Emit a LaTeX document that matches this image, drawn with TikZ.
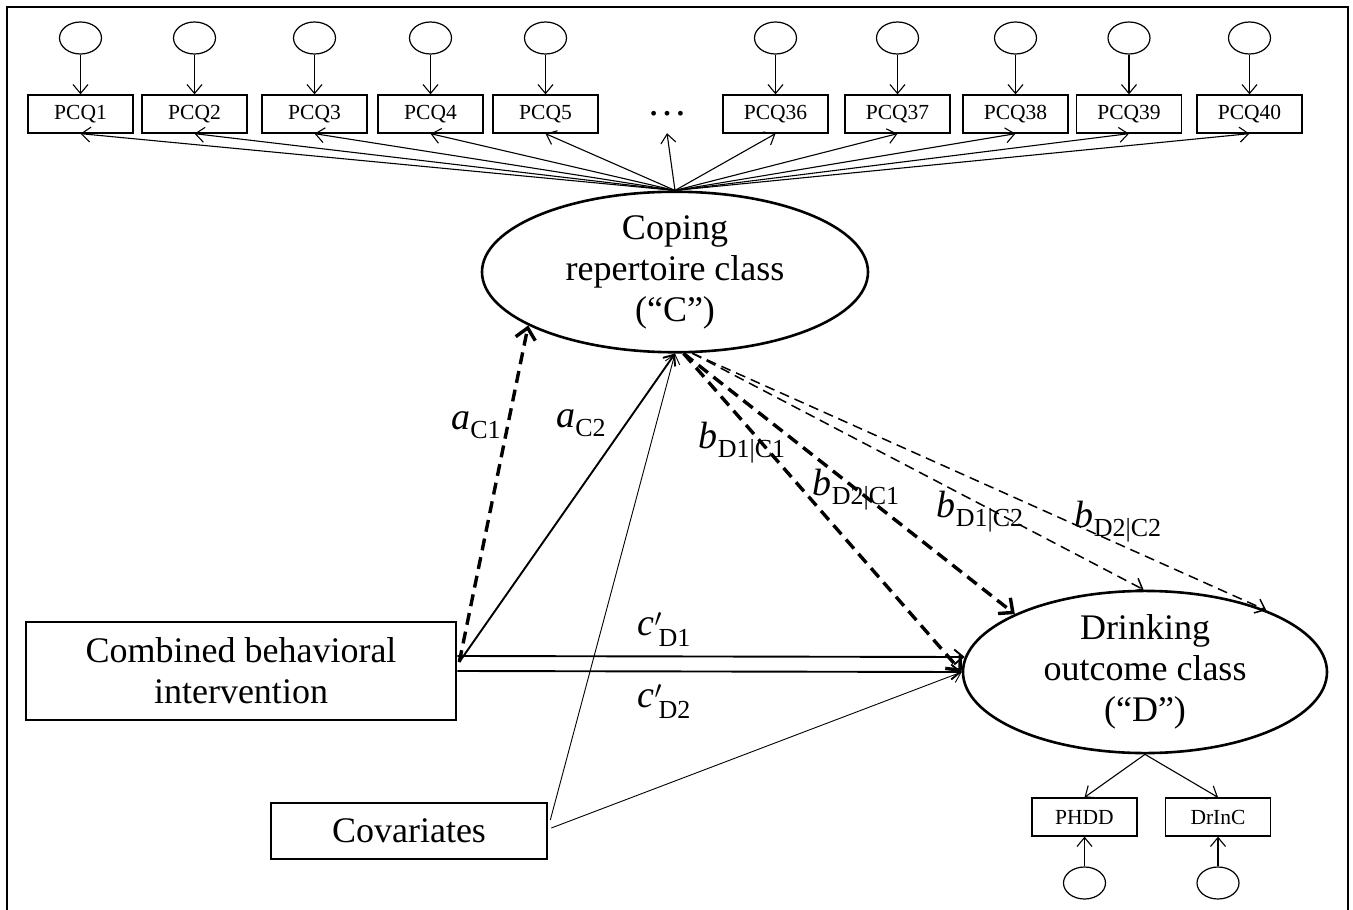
\documentclass[tikz,border=0pt]{standalone}
\usepackage{fontspec}
\setmainfont{Liberation Serif}
\usetikzlibrary{arrows.meta,calc,shapes.geometric}

\newcommand{\coef}[2]{\textit{#1}\raisebox{-9pt}{\fontsize{26}{26}\selectfont #2}}
\newcommand{\coefp}[2]{\textit{#1}\rlap{$^{\prime}$}\hspace{4pt}\raisebox{-11pt}{\fontsize{26}{26}\selectfont #2}}

\begin{document}
\begin{tikzpicture}[
    x=1pt, y=-1pt,
    >={Straight Barb[length=9pt,width=15pt]},
    line cap=butt, line join=miter,
    every node/.style={font=\fontsize{36}{41}\selectfont},
    lat/.style={ellipse, draw, line width=2.6pt, inner sep=0pt, align=center},
    obs/.style={draw, line width=2.6pt, inner sep=0pt, align=center},
    ind/.style={draw, line width=1.3pt, minimum width=105pt, minimum height=38pt,
                inner sep=0pt, font=\fontsize{21.5}{24}\selectfont},
    err/.style={ellipse, draw, line width=1.2pt, minimum width=42pt, minimum height=32pt, inner sep=0pt},
    load/.style={line width=1.1pt, ->},
    eff/.style={line width=1.9pt, ->},
    cov/.style={line width=0.9pt, ->},
    bigdash/.style={line width=3.4pt, dash pattern=on 12pt off 7pt,
                    -{Straight Barb[length=11pt,width=20pt]}},
    smalldash/.style={line width=1.5pt, dash pattern=on 10pt off 6pt, ->},
    coefl/.style={font=\fontsize{38}{40}\selectfont, inner sep=0pt},
]

% ============================================================
% Page + frame
% ============================================================
\useasboundingbox (0,0) rectangle (1353,910);
\fill[white] (0,0) rectangle (1353,910);
\draw[line width=2.2pt] (7,910) -- (7,7) -- (1348,7) -- (1348,910);

\def\boxY{114}
\def\errY{38}

% ============================================================
% Latent classes + observed variables
% ============================================================
\node[lat, minimum width=386pt, minimum height=148pt] (C) at (675,272) {Coping\\repertoire class\\(“C”)};
\node[lat, minimum width=364pt, minimum height=160pt] (D) at (1145,672) {Drinking\\outcome class\\(“D”)};
\node[obs, minimum width=430pt, minimum height=98pt] (CBI) at (241,671) {Combined behavioral\\intervention};
\node[obs, minimum width=276pt, minimum height=56pt] (Cov) at (409,831) {Covariates};

% ============================================================
% Coping items (PCQ) with error terms
% ============================================================
\node[ind] (pcq1)  at (80.5,\boxY)   {PCQ1};
\node[ind] (pcq2)  at (194.5,\boxY)  {PCQ2};
\node[ind] (pcq3)  at (314.5,\boxY)  {PCQ3};
\node[ind] (pcq4)  at (430.5,\boxY)  {PCQ4};
\node[ind] (pcq5)  at (545.5,\boxY)  {PCQ5};
\node[inner sep=0pt, minimum height=38pt, font=\fontsize{40}{40}\selectfont] (dots) at (667,\boxY) {…};
\node[ind] (pcq36) at (775.5,\boxY)  {PCQ36};
\node[ind] (pcq37) at (897.5,\boxY)  {PCQ37};
\node[ind] (pcq38) at (1015.5,\boxY) {PCQ38};
\node[ind] (pcq39) at (1129,\boxY)   {PCQ39};
\node[ind] (pcq40) at (1249.5,\boxY) {PCQ40};

\node[err] (e1)  at (80.5,\errY)   {};
\node[err] (e2)  at (194.5,\errY)  {};
\node[err] (e3)  at (314.5,\errY)  {};
\node[err] (e4)  at (430.5,\errY)  {};
\node[err] (e5)  at (545.5,\errY)  {};
\node[err] (e36) at (775.5,\errY)  {};
\node[err] (e37) at (897.5,\errY)  {};
\node[err] (e38) at (1015.5,\errY) {};
\node[err] (e39) at (1129,\errY)   {};
\node[err] (e40) at (1249.5,\errY) {};

\draw[load] (e1)  -- (pcq1);
\draw[load] (e2)  -- (pcq2);
\draw[load] (e3)  -- (pcq3);
\draw[load] (e4)  -- (pcq4);
\draw[load] (e5)  -- (pcq5);
\draw[load] (e36) -- (pcq36);
\draw[load] (e37) -- (pcq37);
\draw[load] (e38) -- (pcq38);
\draw[load] (e39) -- (pcq39);
\draw[load] (e40) -- (pcq40);

\draw[load] (C.north) -- (pcq1.south);
\draw[load] (C.north) -- (pcq2.south);
\draw[load] (C.north) -- (pcq3.south);
\draw[load] (C.north) -- (pcq4.south);
\draw[load] (C.north) -- (pcq5.south);
\draw[load] (C.north) -- (dots.south);
\draw[load] (C.north) -- (pcq36.south);
\draw[load] (C.north) -- (pcq37.south);
\draw[load] (C.north) -- (pcq38.south);
\draw[load] (C.north) -- (pcq39.south);
\draw[load] (C.north) -- (pcq40.south);

% ============================================================
% Drinking indicators
% ============================================================
\node[ind] (phdd)  at (1084.5,817) {PHDD};
\node[ind] (drinc) at (1218,817)   {DrInC};
\node[err] (ephdd)  at (1084.5,883) {};
\node[err] (edrinc) at (1218,883)   {};
\draw[load] (D.south) -- (phdd.north);
\draw[load] (D.south) -- (drinc.north);
\draw[load] (ephdd)  -- (phdd);
\draw[load] (edrinc) -- (drinc);

% ============================================================
% Structural paths
% ============================================================
\draw[bigdash] ($(CBI.east)+(2,-9)$) -- (C.200);
\draw[eff] ($(CBI.east)+(2,-9)$) -- (C.south);
\draw[eff] ($(CBI.east)+(0,-15)$) -- ($(D.west)+(3,-15)$);
\draw[eff] (CBI.east) -- (D.west);

\draw[cov] ($(Cov.east)+(2,-11)$) -- (C.south);
\draw[cov] ($(Cov.east)+(3,-3)$) -- (D.west);

\draw[bigdash] (C.276) -- (D.west);
\draw[bigdash] (C.276) -- (D.156);
\draw[smalldash] (C.282) -- (D.91);
\draw[smalldash] (C.282) -- (D.27);

% Coefficient labels
\node[coefl] (laC1) at (476,425) {\coef{a}{C1}};
\node[coefl] (laC2) at (581,423) {\coef{a}{C2}};
\node[coefl] (lb11) at (742,443) {\coef{b}{D1|C1}};
\node[coefl] (lb21) at (856,490) {\coef{b}{D2|C1}};
\node[coefl] (lb12) at (980,512) {\coef{b}{D1|C2}};
\node[coefl] (lb22) at (1118,522) {\coef{b}{D2|C2}};
\node[coefl] (lc1)  at (664,630) {\coefp{c}{D1}};
\node[coefl] (lc2)  at (664,702) {\coefp{c}{D2}};

\end{tikzpicture}
\end{document}
